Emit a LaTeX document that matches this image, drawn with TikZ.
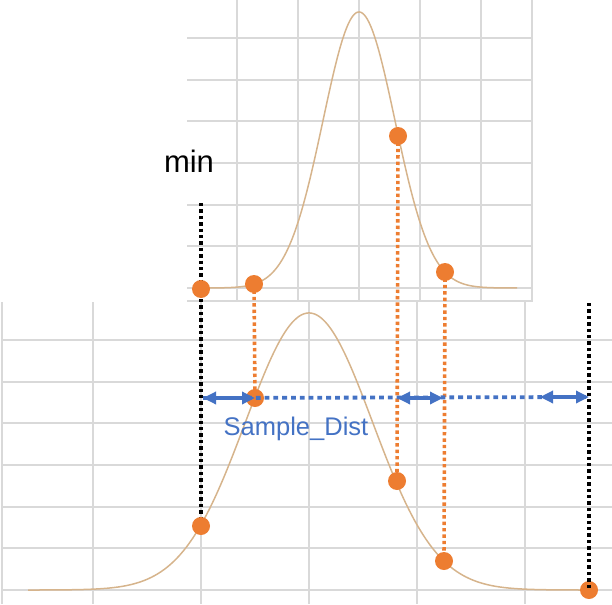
\documentclass[tikz,border=0pt]{standalone}
\usepackage{fontspec}
\setmainfont{Liberation Sans}
\usetikzlibrary{arrows.meta}
\definecolor{gridc}{RGB}{217,217,217}
\definecolor{curvec}{RGB}{214,180,140}
\definecolor{dotc}{RGB}{237,125,49}
\definecolor{bluec}{RGB}{68,114,196}
\begin{document}
\begin{tikzpicture}[x=1pt,y=-1pt,
  gridline/.style={gridc, line width=1.2pt},
  curve/.style={curvec, line width=1.5pt},
  sdot/.style={circle, fill=dotc, inner sep=0pt, minimum size=18pt},
  blackdots/.style={black, line width=3.6pt, dash pattern=on 3.4pt off 3pt},
  orangedots/.style={dotc, line width=3.6pt, dash pattern=on 3.4pt off 3pt},
  bluedots/.style={bluec, line width=3.8pt, dash pattern=on 4.8pt off 4pt},
  darrow/.style={bluec, line width=3.6pt, {Triangle[length=13pt,width=12pt]}-{Triangle[length=13pt,width=12pt]}},
  lbl/.style={anchor=base, inner sep=0pt}]
\useasboundingbox (0,0) rectangle (612,604);
% lower chart grid
\foreach \y in {340,382,423,465,507,548,590} \draw[gridline] (2,\y) -- (612,\y);
\foreach \x in {93,201,309,417,525} \draw[gridline] (\x,302) -- (\x,604);
\draw[gridline] (2,302) -- (2,604);
% top chart grid
\foreach \y in {38,80,121,163,205,246,288} \draw[gridline] (187,\y) -- (532,\y);
\foreach \x in {237,298,359,420,481} \draw[gridline] (\x,0) -- (\x,301);
\draw[gridline] (187,301) -- (532,301) -- (532,0);
% curves
\draw[curve] plot[domain=28:590, samples=250, smooth] (\x,{590-277*exp(-0.5*((\x-309)/63.5)^2)});
\draw[curve] plot[domain=200:517, samples=200, smooth] (\x,{288-276*exp(-0.5*((\x-359)/36)^2)});
% points
\coordinate (t1) at (201,289);
\coordinate (t2) at (254,284);
\coordinate (t3) at (398,136);
\coordinate (t4) at (445,272);
\coordinate (b1) at (201,526);
\coordinate (b2) at (255,398);
\coordinate (b3) at (397,481);
\coordinate (b4) at (444,561);
\coordinate (b5) at (589,590);
\coordinate (minTop) at (201,203);
\coordinate (maxTop) at (589,303);
\coordinate (arrL) at (203,398);
\coordinate (arrR) at (589,397);
\coordinate (m1) at (397,398);
\coordinate (m2) at (443,398);
\coordinate (r1) at (540,397);
% dotted verticals
\draw[blackdots] (minTop) -- (b1);
\draw[orangedots] (t2) -- (b2);
\draw[orangedots] (t3) -- (b3);
\draw[orangedots] (t4) -- (b4);
% dots
\foreach \p in {t1,t2,t3,t4,b1,b2,b3,b4,b5} \node[sdot] (d\p) at (\p) {};
\draw[blackdots] (maxTop) -- (b5);
% blue dotted line and arrows
\draw[bluedots] (arrL) -- (arrR);
\draw[darrow] (arrL) -- (b2);
\draw[darrow] (m1) -- (m2);
\draw[darrow] (r1) -- (arrR);
% labels
\node[lbl, font=\fontsize{31}{31}\selectfont] (minlbl) at (189,172) {min};
\node[lbl, font=\fontsize{25.5}{25.5}\selectfont, text=bluec] (sdlbl) at (296,435) {Sample\_Dist};
\end{tikzpicture}
\end{document}
